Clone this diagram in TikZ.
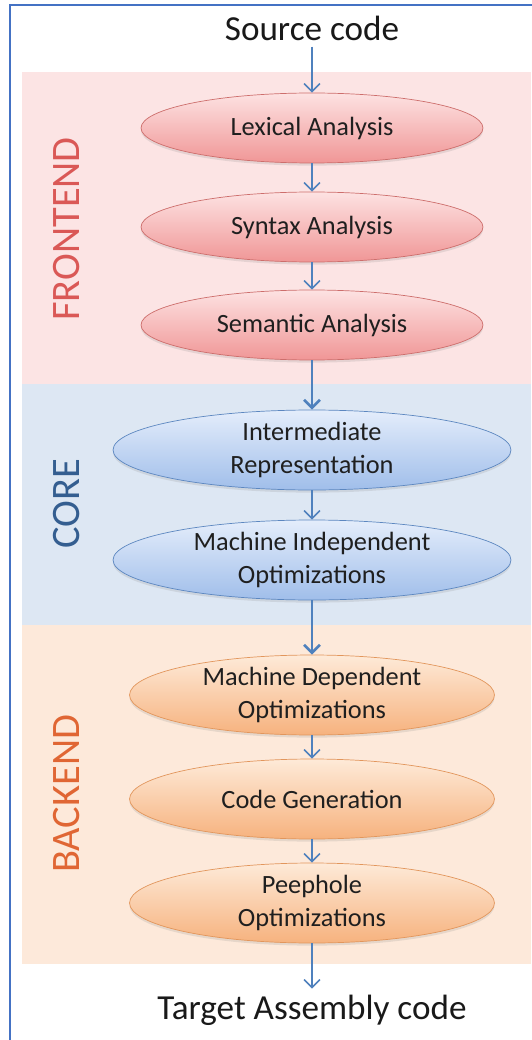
\documentclass[tikz,border=0pt]{standalone}
\usepackage{fontspec}
\setmainfont{Carlito}
\usetikzlibrary{shapes.geometric,arrows.meta,shadows}

\definecolor{framecol}{RGB}{68,114,196}
\definecolor{arrowcol}{RGB}{79,129,189}
\definecolor{frontbg}{RGB}{252,228,228}
\definecolor{corebg}{RGB}{221,231,243}
\definecolor{backbg}{RGB}{253,233,218}
\definecolor{fronttop}{RGB}{253,226,226}
\definecolor{frontbot}{RGB}{240,150,150}
\definecolor{frontline}{RGB}{205,110,108}
\definecolor{coretop}{RGB}{228,237,251}
\definecolor{corebot}{RGB}{160,190,234}
\definecolor{coreline}{RGB}{92,135,192}
\definecolor{backtop}{RGB}{254,234,216}
\definecolor{backbot}{RGB}{246,178,126}
\definecolor{backline}{RGB}{226,150,92}
\definecolor{frontlabel}{RGB}{218,88,86}
\definecolor{corelabel}{RGB}{52,94,144}
\definecolor{backlabel}{RGB}{224,102,52}

\tikzset{
  stage/.style={ellipse, inner sep=0pt, align=center, text=black!88,
    font=\fontsize{15}{19}\selectfont,
    drop shadow={opacity=0.18, shadow xshift=0pt, shadow yshift=-1.5pt}},
  frontstage/.style={stage, minimum width=6.84cm, minimum height=1.4cm,
    draw=frontline, top color=fronttop, bottom color=frontbot},
  corestage/.style={stage, minimum width=7.96cm, minimum height=1.6cm,
    draw=coreline, top color=coretop, bottom color=corebot},
  backstage/.style={stage, minimum width=7.3cm, minimum height=1.6cm,
    draw=backline, top color=backtop, bottom color=backbot},
  endpoint/.style={text=black!90, font=\fontsize{20}{24}\selectfont},
  bandlabel/.style={rotate=90, font=\fontsize{23}{26}\selectfont},
  flow/.style={draw=arrowcol, line width=0.9pt,
    -{Straight Barb[length=4.5pt,width=9pt]}},
  bigflow/.style={flow, line width=1.5pt},
}

\begin{document}
\begin{tikzpicture}[x=0.02cm, y=-0.02cm]
  \useasboundingbox (0,0) rectangle (531,1040);
  \fill[white] (0,0) rectangle (531,1040);

  % Frame and bands
  \draw[framecol, line width=1.2pt] (10,5) rectangle (560,1070);
  \fill[frontbg] (22,72) rectangle (531,384);
  \fill[corebg] (22,384) rectangle (531,625);
  \fill[backbg] (22,625) rectangle (531,964);

  \node[bandlabel, text=frontlabel] (frontend) at (67,229) {FRONTEND};
  \node[bandlabel, text=corelabel] (core) at (67,504) {CORE};
  \node[bandlabel, text=backlabel] (backend) at (67,794) {BACKEND};

  % Nodes
  \node[endpoint] (src) at (312,28) {Source code};
  \node[frontstage] (lex) at (312,128) {Lexical Analysis};
  \node[frontstage] (syn) at (312,227) {Syntax Analysis};
  \node[frontstage] (sem) at (312,325) {Semantic Analysis};
  \node[corestage] (ir) at (312,450) {Intermediate\\Representation};
  \node[corestage] (mio) at (312,560) {Machine Independent\\Optimizations};
  \node[backstage] (mdo) at (312,695) {Machine Dependent\\Optimizations};
  \node[backstage] (cgen) at (312,799) {Code Generation};
  \node[backstage] (peep) at (312,903) {Peephole\\Optimizations};
  \node[endpoint] (tgt) at (312,1010) {Target Assembly code};

  % Arrows
  \draw[flow] (src) -- (lex);
  \draw[flow] (lex) -- (syn);
  \draw[flow] (syn) -- (sem);
  \draw[bigflow] (sem) -- (ir);
  \draw[flow] (ir) -- (mio);
  \draw[bigflow] (mio) -- (mdo);
  \draw[flow] (mdo) -- (cgen);
  \draw[flow] (cgen) -- (peep);
  \draw[flow] (peep) -- (tgt);
\end{tikzpicture}
\end{document}
